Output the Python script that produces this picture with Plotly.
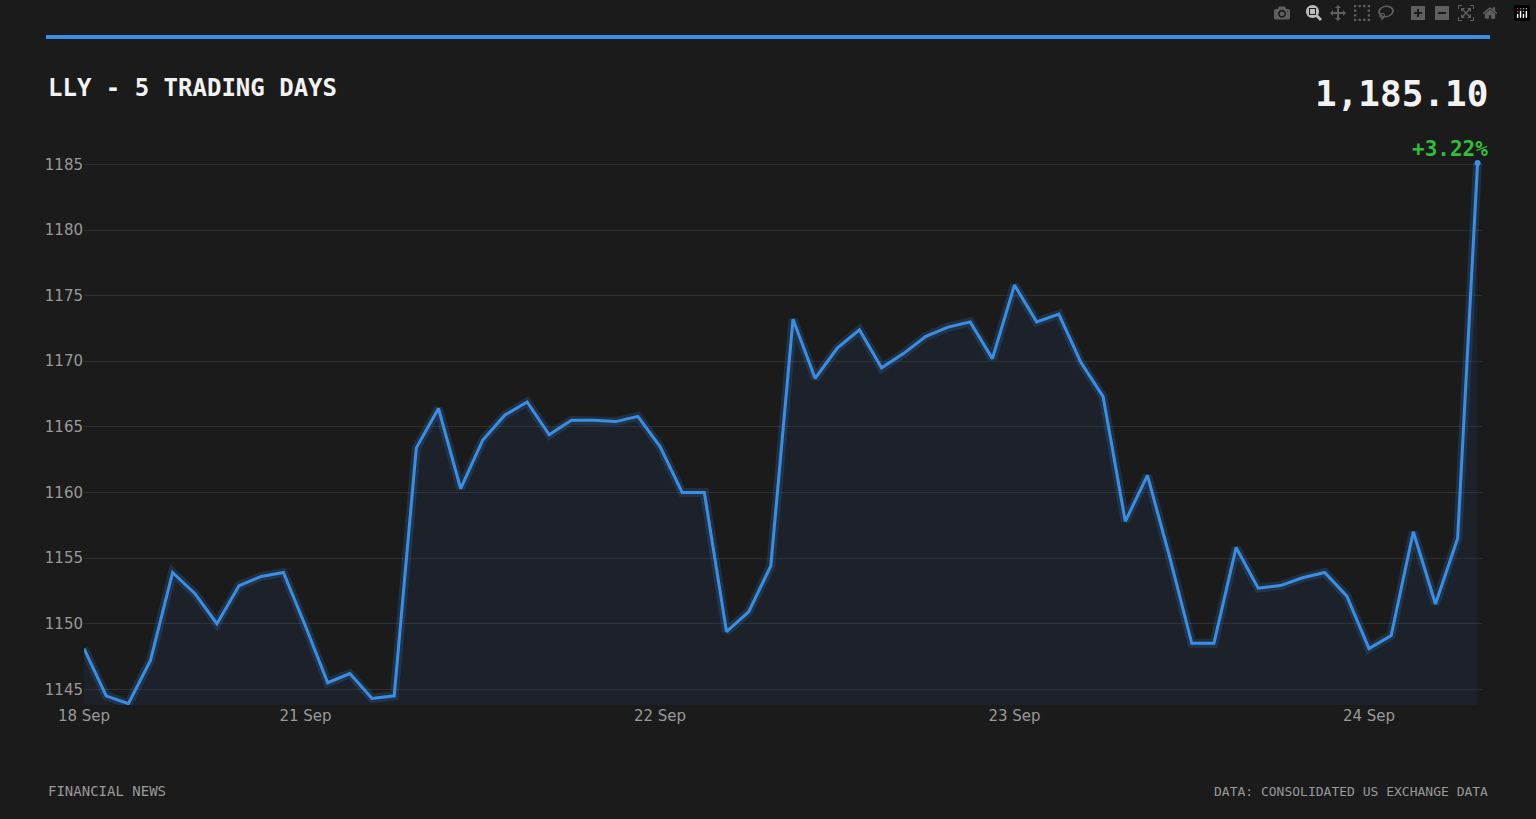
import plotly.graph_objects as go

# intraday prices, one point per ~hour across 5 trading days
prices = [
    1148.1, 1144.5, 1143.9, 1147.2, 1153.9, 1152.3, 1150.0, 1152.9, 1153.6, 1153.9,
    1149.8, 1145.5, 1146.2, 1144.3, 1144.5, 1163.4, 1166.4, 1160.3, 1164.0, 1165.9,
    1166.9, 1164.4, 1165.5, 1165.5, 1165.4, 1165.8, 1163.5, 1160.0, 1160.0, 1149.4,
    1150.9, 1154.4, 1173.2, 1168.7, 1171.0, 1172.4, 1169.5, 1170.6, 1171.9, 1172.6,
    1173.0, 1170.2, 1175.8, 1173.0, 1173.6, 1169.9, 1167.3, 1157.8, 1161.3, 1155.1,
    1148.5, 1148.5, 1155.8, 1152.7, 1152.9, 1153.5, 1153.9, 1152.1, 1148.1, 1149.1,
    1157.0, 1151.5, 1156.5, 1185.1,
]
x = list(range(len(prices)))
x[-1] = 62.9
tick_pos = [0, 10, 26, 42, 58]
tick_text = ["18 Sep", "21 Sep", "22 Sep", "23 Sep", "24 Sep"]

BG = "#1b1b1b"
BLUE = "#3a8ee6"
MONO = "DejaVu Sans Mono, monospace"

fig = go.Figure()
fig.add_trace(go.Scatter(x=x, y=prices, mode="lines", fill="tozeroy",
                         fillcolor="rgba(50,120,220,0.07)",
                         line=dict(color="rgba(58,142,230,0.18)", width=9),
                         hoverinfo="skip", showlegend=False))
fig.add_trace(go.Scatter(x=x, y=prices, mode="lines",
                         line=dict(color=BLUE, width=3), showlegend=False))
fig.add_trace(go.Scatter(x=[x[-1]], y=[prices[-1]], mode="markers",
                         marker=dict(color=BLUE, size=6), showlegend=False))

fig.update_layout(
    width=1536, height=819,
    paper_bgcolor=BG, plot_bgcolor=BG,
    margin=dict(l=84, r=54, t=150, b=114),
    xaxis=dict(range=[0, 63.1], tickvals=tick_pos, ticktext=tick_text,
               showgrid=False, zeroline=False, showline=False,
               tickfont=dict(color="#999999", size=15, family="DejaVu Sans")),
    yaxis=dict(range=[1143.8, 1186.1], tickvals=[1145, 1150, 1155, 1160, 1165, 1170, 1175, 1180, 1185],
               gridcolor="#2f2f2f", zeroline=False, showline=False, ticks="",
               tickfont=dict(color="#999999", size=15, family="DejaVu Sans")),
    shapes=[dict(type="line", xref="paper", yref="paper",
                 x0=-38 / 1398, x1=1406 / 1398, y0=1 + 113 / 555, y1=1 + 113 / 555,
                 line=dict(color=BLUE, width=4))],
    annotations=[
        dict(text="<b>LLY - 5 TRADING DAYS</b>", xref="paper", yref="paper",
             x=-38 / 1398, y=1 + 62 / 555, xanchor="left", yanchor="middle",
             showarrow=False, font=dict(family=MONO, size=24, color="#f2f2f2")),
        dict(text="<b>1,185.10</b>", xref="paper", yref="paper",
             x=1406 / 1398, y=1 + 56 / 555, xanchor="right", yanchor="middle",
             showarrow=False, font=dict(family=MONO, size=36, color="#f2f2f2")),
        dict(text="<b>+3.22%</b>", xref="paper", yref="paper",
             x=1406 / 1398, y=1 + 1 / 555, xanchor="right", yanchor="middle",
             showarrow=False, font=dict(family=MONO, size=21, color="#2fbf3a")),
        dict(text="FINANCIAL NEWS", xref="paper", yref="paper",
             x=-38 / 1398, y=-86 / 555, xanchor="left", yanchor="middle",
             showarrow=False, font=dict(family=MONO, size=14, color="#999999")),
        dict(text="DATA: CONSOLIDATED US EXCHANGE DATA", xref="paper", yref="paper",
             x=1406 / 1398, y=-86 / 555, xanchor="right", yanchor="middle",
             showarrow=False, font=dict(family=MONO, size=13, color="#999999")),
    ],
)

fig.write_html("out.html",
               post_script="document.body.style.margin='0';"
                           "document.body.style.background='#1b1b1b';")
